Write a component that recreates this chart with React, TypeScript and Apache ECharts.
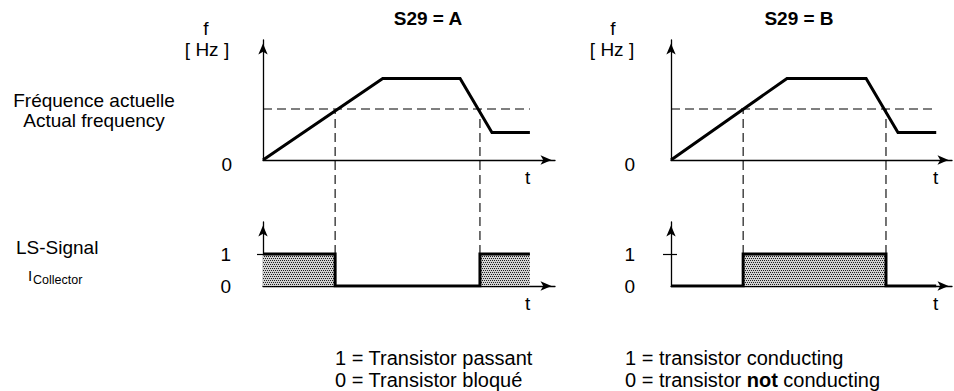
import React, { useEffect, useRef } from 'react';
import * as echarts from 'echarts';

// ---------------- data ----------------
const timeMaxA = 100;
const timeMaxB = 96.2;
const freqMax = 100;
const signalMax = 2;

const freqA: number[][] = [[0, 0], [41, 68], [67.5, 68], [78.4, 23], [91.4, 23]];
const freqB: number[][] = [[0, 0], [39.7, 68], [66.8, 68], [77.7, 23], [90.8, 23]];
const thresholdHz = 42.5;
const thresholdEndA = 91.4;
const thresholdEndB = 90.8;

const switchTimesA = [24.7, 74.3];
const switchTimesB = [24.7, 73.6];

const signalA: number[][] = [[0, 1], [24.7, 1], [24.7, 0], [74.3, 0], [74.3, 1], [91.4, 1]];
const signalB: number[][] = [[0, 0], [24.7, 0], [24.7, 1], [73.6, 1], [73.6, 0], [90.8, 0]];

const freqTickLabels = [0];
const signalTickLabels = [0, 1];
const signalTickMarks = [1];
const timeLabelAt = 90.6;
const timeLabel = 't';

const titles = ['S29 = A', 'S29 = B'];
const freqAxisName = ['f', '[ Hz ]'];
const rowLabelsTop = ['Fréquence actuelle', 'Actual frequency'];
const legendA = ['1 = Transistor passant', '0 = Transistor bloqué'];
const legendB = ['1 = transistor conducting', '0 = transistor {b|not} conducting'];

// ---------------- styling ----------------
const FONT = '"Liberation Sans", Arial, Helvetica, sans-serif';
const FS = 19;
const FS_LEGEND = 20;

function makePattern() {
  const c = document.createElement('canvas');
  c.width = 4;
  c.height = 4;
  const ctx = c.getContext('2d')!;
  ctx.fillStyle = '#d2d2d2';
  ctx.fillRect(0, 0, 4, 4);
  ctx.fillStyle = '#1e1e1e';
  ctx.fillRect(0, 0, 1, 1);
  ctx.fillRect(2, 0, 1, 1);
  ctx.fillRect(1, 2, 1, 1);
  ctx.fillRect(3, 2, 1, 1);
  return { image: c, repeat: 'repeat' };
}

const arrowLine = {
  show: true,
  lineStyle: { color: '#000', width: 1.3 },
  symbol: ['none', 'arrow'],
  symbolSize: [7, 11],
  symbolOffset: [0, -3.5],
};

const labelStyle = { color: '#000', fontSize: FS, fontFamily: FONT };

function txt(x: number, y: number, text: string, extra: any = {}) {
  const align = extra.align || 'left';
  return {
    type: 'text',
    x,
    y,
    silent: true,
    style: {
      text,
      fill: '#000',
      fontSize: FS,
      fontFamily: FONT,
      fontWeight: 'normal',
      align,
      textAlign: align,
      verticalAlign: 'middle',
      textVerticalAlign: 'middle',
      ...extra,
    },
  };
}

export default function App() {
  const ref = useRef<HTMLDivElement>(null);

  useEffect(() => {
    if (!ref.current) return;
    document.body.style.margin = '0';
    document.body.style.overflow = 'hidden';
    const chart = echarts.init(ref.current, undefined, { renderer: 'svg' });
    const pattern = makePattern();

    const grids = [
      { left: 263, top: 40, width: 292, height: 120 },
      { left: 671, top: 40, width: 281, height: 120 },
      { left: 263, top: 222, width: 292, height: 64 },
      { left: 671, top: 222, width: 281, height: 64 },
      { left: 263, top: 109, width: 292, height: 145 },
      { left: 671, top: 109, width: 281, height: 145 },
    ].map((g) => ({ ...g, containLabel: false, outerBoundsMode: 'none' }));

    const xAxis = (gridIndex: number, max: number, visible: boolean) => ({
      type: 'value',
      gridIndex,
      min: 0,
      max,
      show: visible,
      axisLine: arrowLine,
      axisTick: { show: false },
      splitLine: { show: false },
      axisLabel: {
        ...labelStyle,
        customValues: [timeLabelAt],
        formatter: () => timeLabel,
        margin: 8,
      },
    });

    const xAxes = [
      xAxis(0, timeMaxA, true),
      xAxis(1, timeMaxB, true),
      xAxis(2, timeMaxA, true),
      xAxis(3, timeMaxB, true),
      xAxis(4, timeMaxA, false),
      xAxis(5, timeMaxB, false),
    ];

    const zeroLabel = (margin: number) => ({
      ...labelStyle,
      customValues: freqTickLabels,
      margin,
      formatter: (v: number) => '{p|' + v + '}',
      rich: { p: { fontSize: FS, fontFamily: FONT, color: '#000', padding: [8, 0, 0, 0] } },
    });

    const yAxes: any[] = [
      {
        type: 'value', gridIndex: 0, min: 0, max: freqMax, position: 'left',
        axisLine: arrowLine, axisTick: { show: false }, splitLine: { show: false },
        axisLabel: zeroLabel(31),
      },
      {
        type: 'value', gridIndex: 1, min: 0, max: freqMax, position: 'left',
        axisLine: arrowLine, axisTick: { show: false }, splitLine: { show: false },
        axisLabel: zeroLabel(36),
      },
      {
        type: 'value', gridIndex: 2, min: 0, max: signalMax, position: 'left',
        axisLine: arrowLine,
        axisTick: { show: true, customValues: signalTickMarks, length: 6, lineStyle: { color: '#000', width: 1.2 } },
        splitLine: { show: false },
        axisLabel: { ...labelStyle, customValues: signalTickLabels, margin: 32 },
      },
      {
        type: 'value', gridIndex: 3, min: 0, max: signalMax, position: 'left',
        axisLine: arrowLine,
        axisTick: { show: true, customValues: signalTickMarks, length: 8, lineStyle: { color: '#000', width: 1.2 } },
        splitLine: { show: false },
        axisLabel: { ...labelStyle, customValues: signalTickLabels, margin: 36 },
      },
      {
        type: 'value', gridIndex: 3, min: 0, max: signalMax, position: 'left', offset: 0,
        axisLine: { show: false },
        axisTick: { show: true, inside: true, customValues: signalTickMarks, length: 6, lineStyle: { color: '#000', width: 1.2 } },
        splitLine: { show: false },
        axisLabel: { show: false },
      },
      { type: 'value', gridIndex: 4, min: 0, max: 1, show: false },
      { type: 'value', gridIndex: 5, min: 0, max: 1, show: false },
    ];

    const thick = { color: '#000', width: 3, cap: 'butt', join: 'miter' };
    const dashed = { color: '#000', width: 1.1, type: [9, 5] };

    const series: any[] = [
      { type: 'line', xAxisIndex: 0, yAxisIndex: 0, data: freqA, symbol: 'none', lineStyle: thick, z: 5 },
      { type: 'line', xAxisIndex: 0, yAxisIndex: 0, data: [[0, thresholdHz], [thresholdEndA, thresholdHz]], symbol: 'none', lineStyle: dashed, z: 3 },
      { type: 'line', xAxisIndex: 1, yAxisIndex: 1, data: freqB, symbol: 'none', lineStyle: thick, z: 5 },
      { type: 'line', xAxisIndex: 1, yAxisIndex: 1, data: [[0, thresholdHz], [thresholdEndB, thresholdHz]], symbol: 'none', lineStyle: dashed, z: 3 },
      {
        type: 'line', xAxisIndex: 2, yAxisIndex: 2, data: signalA, symbol: 'none', lineStyle: thick,
        areaStyle: { color: pattern, opacity: 1 }, z: 5,
      },
      {
        type: 'line', xAxisIndex: 3, yAxisIndex: 3, data: signalB, symbol: 'none', lineStyle: thick,
        areaStyle: { color: pattern, opacity: 1 }, z: 5,
      },
      ...switchTimesA.map((t) => ({
        type: 'line', xAxisIndex: 4, yAxisIndex: 5, data: [[t, 0], [t, 1]], symbol: 'none', lineStyle: dashed, z: 2,
      })),
      ...switchTimesB.map((t) => ({
        type: 'line', xAxisIndex: 5, yAxisIndex: 6, data: [[t, 0], [t, 1]], symbol: 'none', lineStyle: dashed, z: 2,
      })),
    ];

    const graphic: any[] = [
      txt(428, 18, titles[0], { align: 'center', fontWeight: 'bold' }),
      txt(799, 18, titles[1], { align: 'center', fontWeight: 'bold' }),
      txt(206, 28, freqAxisName[0], { align: 'center' }),
      txt(207, 49, freqAxisName[1], { align: 'center' }),
      txt(613, 28, freqAxisName[0], { align: 'center' }),
      txt(612, 49, freqAxisName[1], { align: 'center' }),
      txt(94, 100, rowLabelsTop[0], { align: 'center' }),
      txt(94, 120, rowLabelsTop[1], { align: 'center' }),
      txt(16, 247, 'LS-Signal'),
      txt(28, 275, 'I', { fontSize: 15 }),
      txt(33, 280, 'Collector', { fontSize: 12.5 }),
      txt(335, 358, legendA[0], { fontSize: FS_LEGEND }),
      txt(335, 380, legendA[1], { fontSize: FS_LEGEND }),
      txt(625, 358, legendB[0], { fontSize: FS_LEGEND }),
      txt(625, 380, legendB[1], {
        fontSize: FS_LEGEND,
        rich: { b: { fontWeight: 'bold', fontSize: FS_LEGEND, fontFamily: FONT, fill: '#000' } },
      }),
    ];

    chart.setOption({
      animation: false,
      backgroundColor: '#fff',
      grid: grids,
      xAxis: xAxes,
      yAxis: yAxes,
      series,
      graphic,
    });

    return () => chart.dispose();
  }, []);

  return (
    <div
      ref={ref}
      style={{ position: 'absolute', left: 0, top: 0, width: 954, height: 391 }}
    />
  );
}
